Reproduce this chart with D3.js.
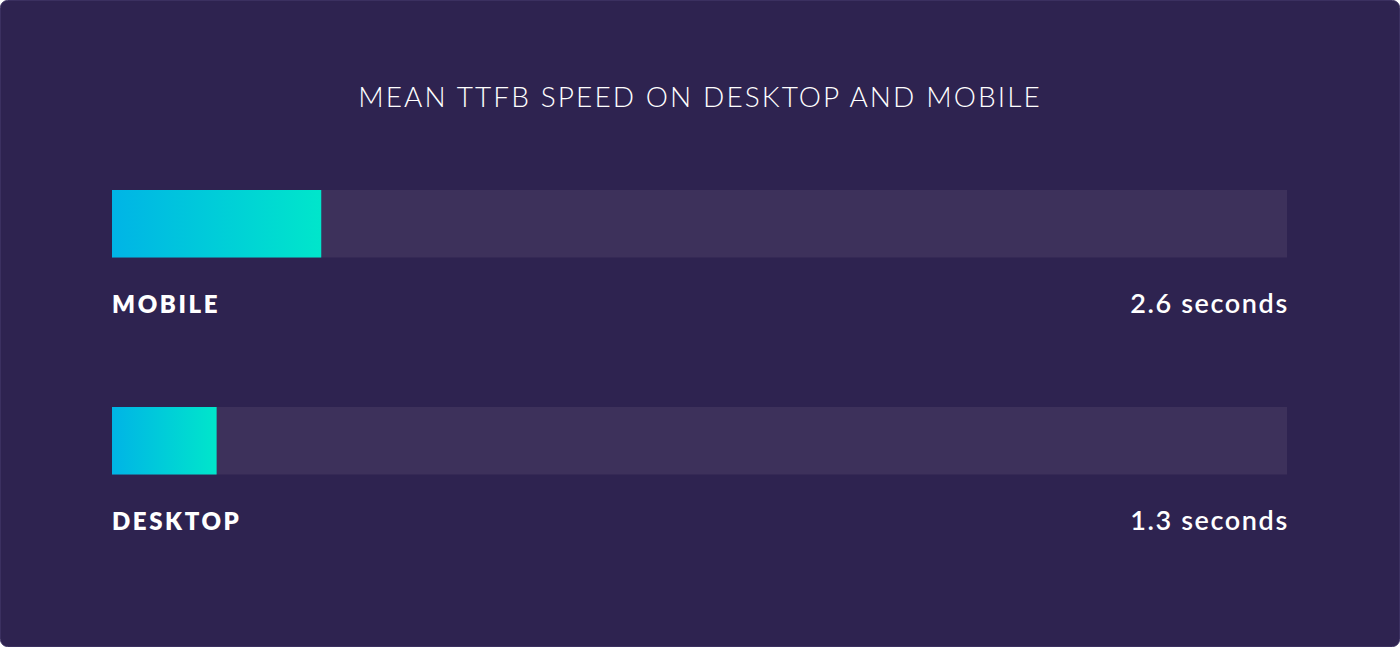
<!DOCTYPE html>
<html>
<head>
<meta charset="utf-8">
<script src="https://cdn.jsdelivr.net/npm/d3@7"></script>
<style>
  html, body { margin: 0; padding: 0; background: #ffffff; }
  svg { display: block; }
</style>
</head>
<body>
<div id="chart"></div>
<script>
const title = 'MEAN TTFB SPEED ON DESKTOP AND MOBILE';
const categories = ['MOBILE', 'DESKTOP'];
const values = [2.6, 1.3];
const valueLabels = ['2.6 seconds', '1.3 seconds'];

const width = 1400;
const height = 647;
const margin = { left: 112, right: 113 };

const svg = d3.select('#chart').append('svg')
  .attr('width', width)
  .attr('height', height);

// gradient for the filled bars
const grad = svg.append('defs').append('linearGradient')
  .attr('id', 'barGrad')
  .attr('x1', '0%').attr('x2', '100%')
  .attr('y1', '0%').attr('y2', '0%');
grad.append('stop').attr('offset', '0%').attr('stop-color', '#00b4e6');
grad.append('stop').attr('offset', '100%').attr('stop-color', '#00e6cb');

// card background
svg.append('rect')
  .attr('x', 0.5).attr('y', 0.5)
  .attr('width', width - 1).attr('height', height - 1)
  .attr('rx', 7)
  .attr('fill', '#2e2350')
  .attr('stroke', '#3b3060')
  .attr('stroke-width', 1);

svg.append('text')
  .attr('x', width / 2)
  .attr('y', 107)
  .attr('text-anchor', 'middle')
  .attr('fill', '#ffffff')
  .style('font-family', 'Lato, "Noto Sans", sans-serif')
  .style('font-weight', 300)
  .style('font-size', '28px')
  .style('letter-spacing', '2.1px')
  .text(title);

const xScale = d3.scaleLinear()
  .domain([0, 14.6])
  .range([margin.left, width - margin.right]);

const yScale = d3.scaleBand()
  .domain(categories)
  .range([190, 190 + 217 * 2])
  .paddingInner(0);

const barH = 67.5;

const rows = svg.append('g').selectAll('g')
  .data(categories.map((c, i) => ({ cat: c, value: values[i], label: valueLabels[i] })))
  .join('g')
  .attr('transform', (d) => `translate(0, ${yScale(d.cat)})`);

rows.append('rect')
  .attr('x', xScale.range()[0])
  .attr('width', xScale.range()[1] - xScale.range()[0])
  .attr('height', barH)
  .attr('fill', '#3d315b');

rows.append('rect')
  .attr('x', xScale(0))
  .attr('width', (d) => xScale(d.value) - xScale(0))
  .attr('height', barH)
  .attr('fill', 'url(#barGrad)');

rows.append('text')
  .attr('x', xScale(0))
  .attr('y', 123)
  .attr('fill', '#ffffff')
  .style('font-family', 'Lato, "Noto Sans", sans-serif')
  .style('font-weight', 800)
  .style('font-size', '24px')
  .style('letter-spacing', '2.6px')
  .text((d) => d.cat);

// trailing letter-spacing pushes the end in, so nudge right
rows.append('text')
  .attr('x', xScale.range()[1] + 1.8)
  .attr('y', 123)
  .attr('text-anchor', 'end')
  .attr('fill', '#ffffff')
  .style('font-family', 'Lato, "Noto Sans", sans-serif')
  .style('font-weight', 600)
  .style('font-size', '27px')
  .style('letter-spacing', '1.6px')
  .text((d) => d.label);
</script>
</body>
</html>
